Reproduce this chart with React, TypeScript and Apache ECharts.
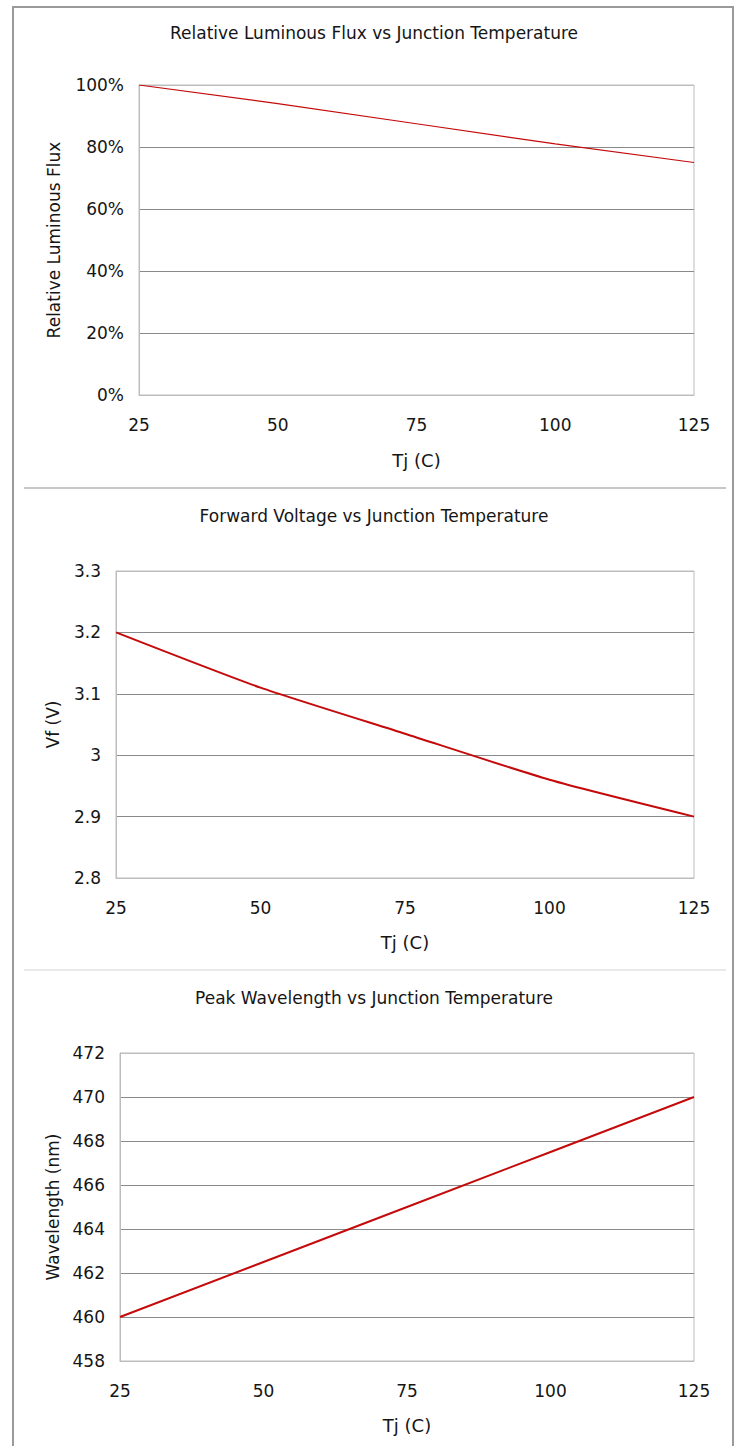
import React, { useEffect, useRef } from "react";
import * as echarts from "echarts";

// ---- Data ----
const tempTicks = [25, 50, 75, 100, 125];
const fluxValues = [100, 94, 87.5, 81, 75];
const vfValues = [3.2, 3.11, 3.035, 2.96, 2.9];
const wavelengthValues = [460, 462.5, 465, 467.5, 470];

const titles = [
  "Relative Luminous Flux vs Junction Temperature",
  "Forward Voltage vs Junction Temperature",
  "Peak Wavelength vs Junction Temperature",
];
const yNames = ["Relative Luminous Flux", "Vf (V)", "Wavelength (nm)"];
const xName = "Tj (C)";

const FONT = "DejaVu Sans";
const TXT = "#151515";
const RED = "#c40a0a";
const GRID_DARK = "#8a8a8a";
const GRID_LIGHT = "#bdbdbd";

export default function App() {
  const ref = useRef<HTMLDivElement>(null);

  useEffect(() => {
    if (!ref.current) return;
    const chart = echarts.init(ref.current, null, { renderer: "svg" });

    const grids = [
      { left: 139, width: 555, top: 85, height: 310 },
      { left: 116, width: 578, top: 571, height: 307 },
      { left: 120, width: 574, top: 1053, height: 308 },
    ];
    const yCfg = [
      { min: 0, max: 100, interval: 20, fmt: "{value}%", gap: 77, n: 6 },
      { min: 2.8, max: 3.3, interval: 0.1, fmt: "{value}", gap: 55, n: 6 },
      { min: 458, max: 472, interval: 2, fmt: "{value}", gap: 57, n: 8 },
    ];
    const titleTops = [19, 502, 984];
    const xNameGaps = [56, 55, 55];
    const seriesVals = [fluxValues, vfValues, wavelengthValues];
    const widths = [1.2, 2, 2];

    const splitColors = (n: number) =>
      Array.from({ length: n }, (_, i) => (i === 0 || i === n - 1 ? GRID_LIGHT : GRID_DARK));

    chart.setOption({
      animation: false,
      backgroundColor: "#ffffff",
      title: titles.map((t, i) => ({
        text: t,
        left: 369,
        top: titleTops[i],
        textAlign: "center",
        textStyle: { fontFamily: FONT, fontSize: 17, fontWeight: "normal", color: TXT },
      })),
      grid: grids.map((g) => ({
        ...g,
        show: true,
        borderColor: GRID_LIGHT,
        borderWidth: 1,
        containLabel: false,
      })),
      xAxis: grids.map((_, i) => ({
        type: "value",
        gridIndex: i,
        min: 25,
        max: 125,
        interval: 25,
        name: xName,
        nameLocation: "middle",
        nameGap: xNameGaps[i],
        nameTextStyle: { fontFamily: FONT, fontSize: 18, color: TXT },
        axisLine: { show: true, lineStyle: { color: GRID_LIGHT } },
        axisTick: { show: false },
        splitLine: { show: false },
        axisLabel: { margin: 21, fontFamily: FONT, fontSize: 17, color: TXT },
      })),
      yAxis: yCfg.map((c, i) => ({
        type: "value",
        gridIndex: i,
        min: c.min,
        max: c.max,
        interval: c.interval,
        name: yNames[i],
        nameLocation: "middle",
        nameGap: c.gap,
        nameTextStyle: { fontFamily: FONT, fontSize: 17, color: TXT },
        axisLine: { show: true, lineStyle: { color: GRID_LIGHT } },
        axisTick: { show: false },
        splitLine: { show: true, lineStyle: { color: splitColors(c.n), width: 1 } },
        axisLabel: {
          margin: 15,
          fontFamily: FONT,
          fontSize: 17,
          color: TXT,
          formatter: c.fmt,
        },
      })),
      series: seriesVals.map((vals, i) => ({
        type: "line",
        xAxisIndex: i,
        yAxisIndex: i,
        data: tempTicks.map((t, k) => [t, vals[k]]),
        showSymbol: false,
        symbol: "none",
        smooth: i === 1 ? 0.2 : false,
        lineStyle: { color: RED, width: widths[i] },
        z: 5,
      })),
      graphic: [
        {
          type: "rect",
          shape: { x: 13, y: 7, width: 720, height: 1460 },
          style: { fill: "none", stroke: "#9a9a9a", lineWidth: 2 },
          silent: true,
        },
        {
          type: "line",
          shape: { x1: 24, y1: 488, x2: 726, y2: 488 },
          style: { stroke: "#b4b4b4", lineWidth: 1.5 },
          silent: true,
        },
        {
          type: "line",
          shape: { x1: 24, y1: 970, x2: 726, y2: 970 },
          style: { stroke: "#e2e2e2", lineWidth: 1.5 },
          silent: true,
        },
      ],
    });

    return () => chart.dispose();
  }, []);

  return (
    <div
      ref={ref}
      style={{ position: "absolute", left: 0, top: 0, width: 739, height: 1446, background: "#fff" }}
    />
  );
}
